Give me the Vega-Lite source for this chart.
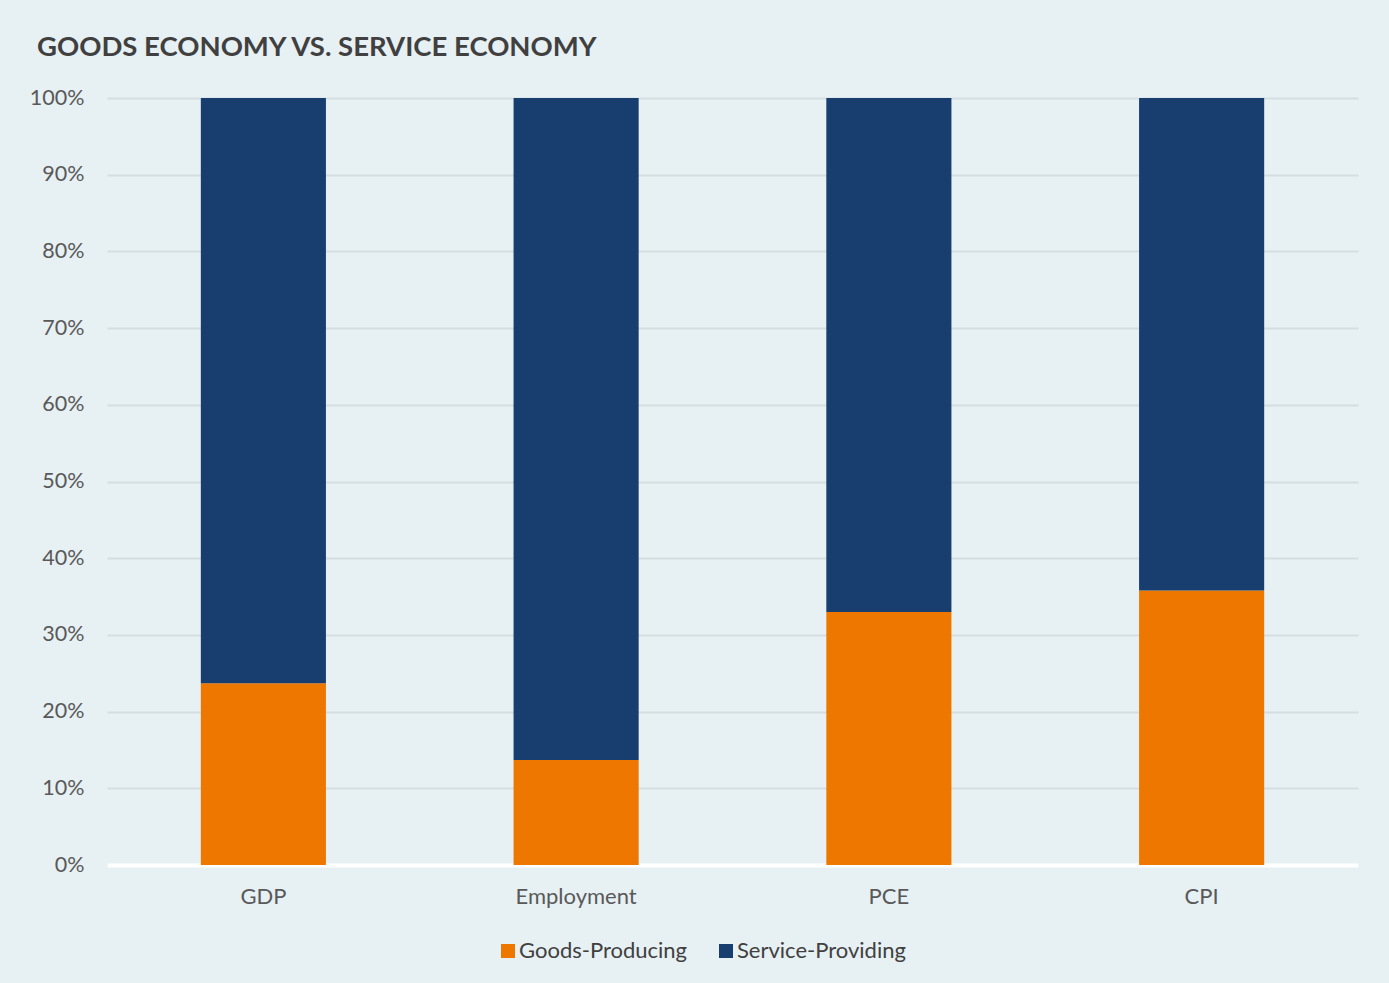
{
  "$schema": "https://vega.github.io/schema/vega-lite/v6.json",
  "width": 1251,
  "height": 767,
  "autosize": {"type": "none"},
  "padding": {"left": 107, "top": 98, "right": 31, "bottom": 118},
  "background": "#E7F0F3",
  "title": {
    "text": "GOODS ECONOMY VS. SERVICE ECONOMY",
    "anchor": "start",
    "frame": "group",
    "font": "Lato",
    "fontSize": 27.5,
    "fontWeight": "bold",
    "color": "#404040",
    "baseline": "alphabetic",
    "dx": -70,
    "offset": 4
  },
  "data": {
    "values": [
      {"category": "GDP", "series": "Goods-Producing", "share": 0.237},
      {"category": "GDP", "series": "Service-Providing", "share": 0.763},
      {"category": "Employment", "series": "Goods-Producing", "share": 0.137},
      {"category": "Employment", "series": "Service-Providing", "share": 0.863},
      {"category": "PCE", "series": "Goods-Producing", "share": 0.33},
      {"category": "PCE", "series": "Service-Providing", "share": 0.67},
      {"category": "CPI", "series": "Goods-Producing", "share": 0.358},
      {"category": "CPI", "series": "Service-Providing", "share": 0.642}
    ]
  },
  "mark": {"type": "bar"},
  "encoding": {
    "x": {
      "field": "category",
      "type": "nominal",
      "sort": ["GDP", "Employment", "PCE", "CPI"],
      "scale": {"paddingInner": 0.6, "paddingOuter": 0.3},
      "axis": {
        "title": null,
        "labelAngle": 0,
        "labelFont": "Lato",
        "labelFontSize": 22,
        "labelColor": "#595959",
        "labelPadding": 21,
        "ticks": false,
        "domainColor": "#FFFFFF",
        "domainWidth": 4,
        "grid": false
      }
    },
    "y": {
      "field": "share",
      "type": "quantitative",
      "stack": "zero",
      "scale": {"domain": [0, 1], "nice": false},
      "axis": {
        "title": null,
        "format": ".0%",
        "values": [0, 0.1, 0.2, 0.3, 0.4, 0.5, 0.6, 0.7, 0.8, 0.9, 1],
        "labelFont": "Lato",
        "labelFontSize": 21.5,
        "labelColor": "#595959",
        "labelPadding": 23,
        "ticks": false,
        "domain": false,
        "grid": true,
        "gridColor": "#D5DDE1",
        "gridWidth": 2
      }
    },
    "order": {"field": "series", "sort": "ascending"},
    "color": {
      "field": "series",
      "type": "nominal",
      "scale": {
        "domain": ["Goods-Producing", "Service-Providing"],
        "range": ["#EE7700", "#173E6E"]
      },
      "legend": {
        "title": null,
        "orient": "none",
        "legendX": 390,
        "legendY": 842,
        "direction": "horizontal",
        "symbolType": "square",
        "symbolSize": 196,
        "symbolStrokeWidth": 0,
        "labelFont": "Lato",
        "labelFontSize": 22,
        "labelLimit": 0,
        "labelColor": "#404040",
        "labelOffset": 0,
        "columnPadding": 27
      }
    }
  },
  "config": {
    "view": {"stroke": null},
    "legend": {"symbolOpacity": 1}
  }
}
